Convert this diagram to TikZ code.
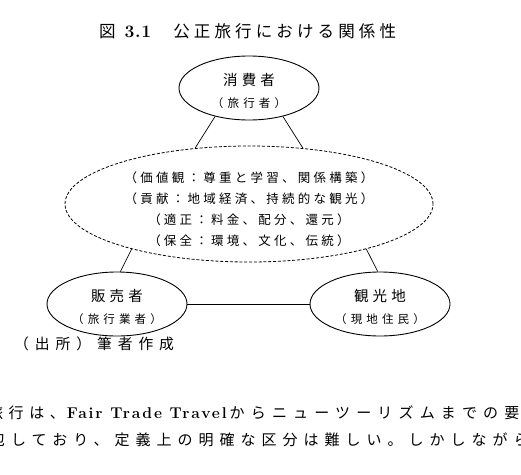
\documentclass[tikz,border=0pt]{standalone}
\usepackage{fontspec}
\newfontfamily\jpfont{Noto Sans CJK JP}
\newfontfamily\latinfont{Latin Modern Roman}
\usetikzlibrary{shapes.geometric}

% Japanese text with size and letter spacing
\newcommand{\jtext}[3]{{\fontsize{#1}{#1}\selectfont\jpfont\addfontfeature{LetterSpace=#2}#3}}
% bold Latin text with size and letter spacing
\newcommand{\ltext}[3]{{\fontsize{#1}{#1}\selectfont\latinfont\bfseries\addfontfeature{LetterSpace=#2}#3}}

\begin{document}
\begin{tikzpicture}[x=1pt, y=-1pt,
  actor/.style={draw, ellipse, line width=0.9pt, inner sep=0, minimum width=140pt,
    minimum height=64pt},
  actorlbl/.style={inner sep=0, align=center, font=\fontsize{14}{22}\selectfont, yshift=-3pt},
  valuebox/.style={draw, ellipse, dash pattern=on 3pt off 1.8pt, line width=0.8pt, inner sep=0,
    minimum width=368pt, minimum height=116pt},
  valuelbl/.style={inner sep=0, align=center, font=\fontsize{12}{20.9}\selectfont},
  link/.style={draw, line width=0.7pt},
  plain/.style={inner sep=0, anchor=west}
]
\useasboundingbox (0,0) rectangle (521,474);

% ── Title ─────────────────────────────────────────────────────────────────────
\node[plain] (title) at (99,31)
  {\jtext{16.5}{0}{図}\hspace{9pt}\ltext{17.5}{4}{3.1}\hspace{22pt}\jtext{16.5}{25}{公正旅行における関係性}};

% ── Actors ────────────────────────────────────────────────────────────────────
\node[actor] (consumer) at (249,88) {};
\node[actorlbl] (consumerlbl) at (consumer)
  {\jtext{14.5}{28}{消費者}\\\jtext{11.5}{36}{（旅行者）}};

\node[actor] (seller) at (117,304) {};
\node[actorlbl] (sellerlbl) at (seller)
  {\jtext{14.5}{28}{販売者}\\\jtext{11.5}{36}{（旅行業者）}};

\node[actor] (site) at (380,304) {};
\node[actorlbl] (sitelbl) at (site)
  {\jtext{14.5}{28}{観光地}\\\jtext{11.5}{36}{（現地住民）}};

% ── Shared values (dashed) ────────────────────────────────────────────────────
\node[valuebox] (values) at (249,204) {};
\node[valuelbl] (valueslbl) at (249,209.5)
  {\jtext{12.5}{26}{（価値観：尊重と学習、関係構築）}\\
   \jtext{12.5}{26}{（貢献：地域経済、持続的な観光）}\\
   \jtext{12.5}{26}{（適正：料金、配分、還元）}\\
   \jtext{12.5}{26}{（保全：環境、文化、伝統）}};

% ── Links ─────────────────────────────────────────────────────────────────────
\draw[link] (consumer.220) -- (values.134);
\draw[link] (consumer.320) -- (values.46);
\draw[link] (values.201) -- (seller.84);
\draw[link] (values.339) -- (site.94);
\draw[link] (seller) -- (site);

% ── Source and body text ──────────────────────────────────────────────────────
\node[plain] (source) at (14,344) {\jtext{14.8}{40}{（出所）筆者作成}};

\node[plain] (body1) at (-12,413)
  {\jtext{15}{37}{旅行は、}\hspace{2pt}\ltext{15.6}{12}{Fair Trade Travel}\hspace{3pt}\jtext{15}{41}{からニューツーリズムまでの要}};
\node[plain] (body2) at (-10,440)
  {\jtext{15}{40}{包しており、定義上の明確な区分は難しい。しかしながら}};

\end{tikzpicture}
\end{document}
